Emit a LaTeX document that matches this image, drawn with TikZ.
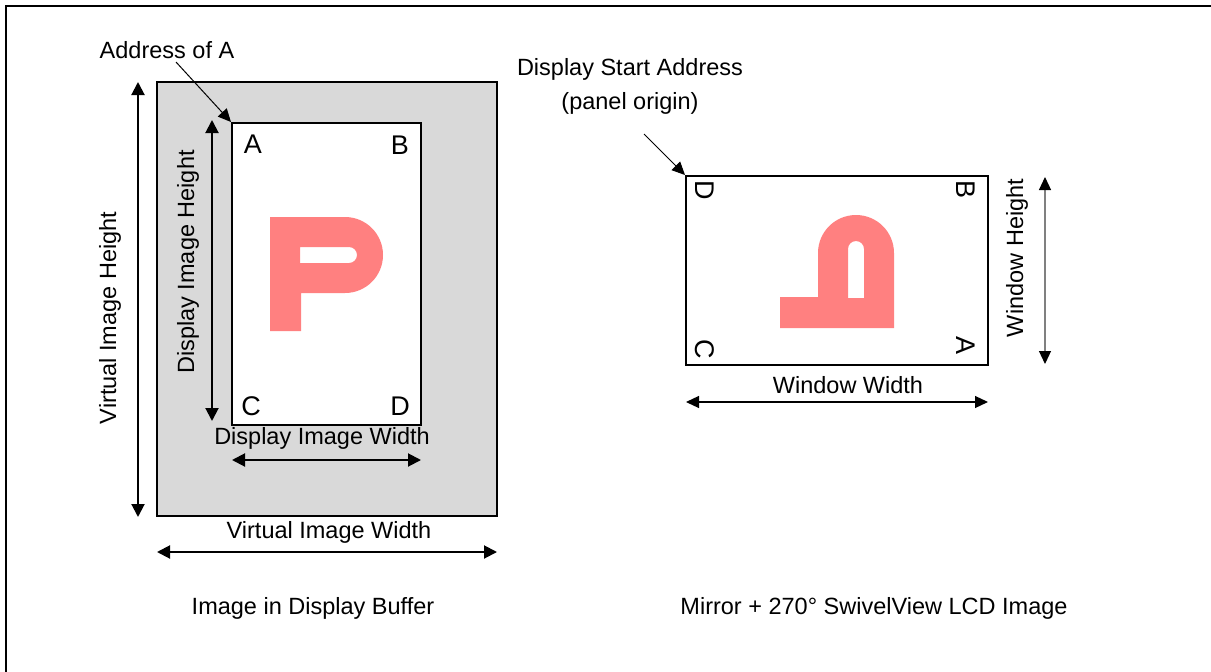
\documentclass[tikz,border=0pt]{standalone}
\usepackage{fontspec}
\setmainfont{Liberation Sans}
\usetikzlibrary{arrows.meta}
\definecolor{vgray}{RGB}{217,217,217}
\definecolor{ppink}{RGB}{255,128,128}
\newcommand\ppath{(0,0) -- (75,0) arc[start angle=90,end angle=-90,radius=38pt] -- (31,76) -- (31,114) -- (0,114) -- cycle (30,30) -- (79,30) arc[start angle=90,end angle=-90,radius=8pt] -- (30,46) -- cycle}
\begin{document}
\begin{tikzpicture}[x=1pt,y=-1pt,
  lbl/.style={font=\fontsize{23.5}{26}\selectfont, inner sep=0pt},
  corner/.style={font=\fontsize{27}{30}\selectfont, inner sep=0pt},
  dim/.style={line width=2pt, {Triangle[length=13pt,width=13pt]}-{Triangle[length=13pt,width=13pt]}},
  thindim/.style={line width=1.2pt, {Triangle[length=13pt,width=12pt,color=black]}-{Triangle[length=13pt,width=12pt,color=black]}},
  ptr/.style={line width=1pt, -{Triangle[length=13pt,width=12pt]}},
  box/.style={draw, line width=2pt, inner sep=0pt},
  pfill/.style={fill=ppink, even odd rule}]
\useasboundingbox (0,0) rectangle (1211,672);
% outer frame
\draw[line width=2pt] (6,690) -- (6,6) -- (1230,6);

% left: image in display buffer
\node[box, fill=vgray, minimum width=340pt, minimum height=434pt] (virt) at (327,299) {};
\node[box, fill=white, minimum width=189pt, minimum height=302pt] (disp) at (326.5,274) {};
\begin{scope}[shift={(270,217)}]
  \fill[pfill] \ppath;
\end{scope}
\node[corner] (la) at (253,144) {A};
\node[corner] (lb) at (400,145) {B};
\node[corner] (lc) at (251,406) {C};
\node[corner] (ld) at (400,406) {D};

\node[lbl] (addrA) at (167,50) {Address of A};
\coordinate (addrS) at (176,62);
\draw[ptr] (addrS) -- (disp.north west);

\coordinate (vhT) at (138,82);
\coordinate (vhB) at (138,517);
\draw[dim] (vhT) -- (vhB);
\node[lbl, rotate=90] (vhL) at (110,318) {Virtual Image Height};

\coordinate (dhT) at (212,120);
\coordinate (dhB) at (212,421);
\draw[dim] (dhT) -- (dhB);
\node[lbl, rotate=90] (dhL) at (188,262) {Display Image Height};

\node[lbl] (dwL) at (322,438) {Display Image Width};
\coordinate (dwA) at (232,460);
\coordinate (dwB) at (421,460);
\draw[dim] (dwA) -- (dwB);

\node[lbl] (vwL) at (329,532) {Virtual Image Width};
\coordinate (vwA) at (157,552);
\coordinate (vwB) at (497,552);
\draw[dim] (vwA) -- (vwB);

\node[lbl] (capL) at (313,608) {Image in Display Buffer};

% right: LCD image
\node[box, fill=white, minimum width=302pt, minimum height=189pt] (win) at (837,270.5) {};
\begin{scope}[cm={0,1,1,0,(894,328)}]
  \fill[pfill] \ppath;
\end{scope}
\node[corner, rotate=-90] (rd) at (705,190) {D};
\node[corner, rotate=-90] (rb) at (966,190) {B};
\node[corner, rotate=-90] (rc) at (705,349) {C};
\node[corner, rotate=-90] (ra) at (966,346) {A};

\node[lbl] (dsa1) at (630,69) {Display Start Address};
\node[lbl] (dsa2) at (630,103) {(panel origin)};
\coordinate (dsaS) at (644,134);
\draw[ptr] (dsaS) -- (win.north west);

\node[lbl] (wwL) at (848,385) {Window Width};
\coordinate (wwA) at (686,402);
\coordinate (wwB) at (988,402);
\draw[thindim] (wwA) -- (wwB);

\node[lbl, rotate=90] (whL) at (1017,258) {Window Height};
\coordinate (whT) at (1045,177);
\coordinate (whB) at (1045,364);
\draw[thindim, draw=gray] (whT) -- (whB);

\node[lbl] (capR) at (874,608) {Mirror + 270° SwivelView LCD Image};
\end{tikzpicture}
\end{document}
